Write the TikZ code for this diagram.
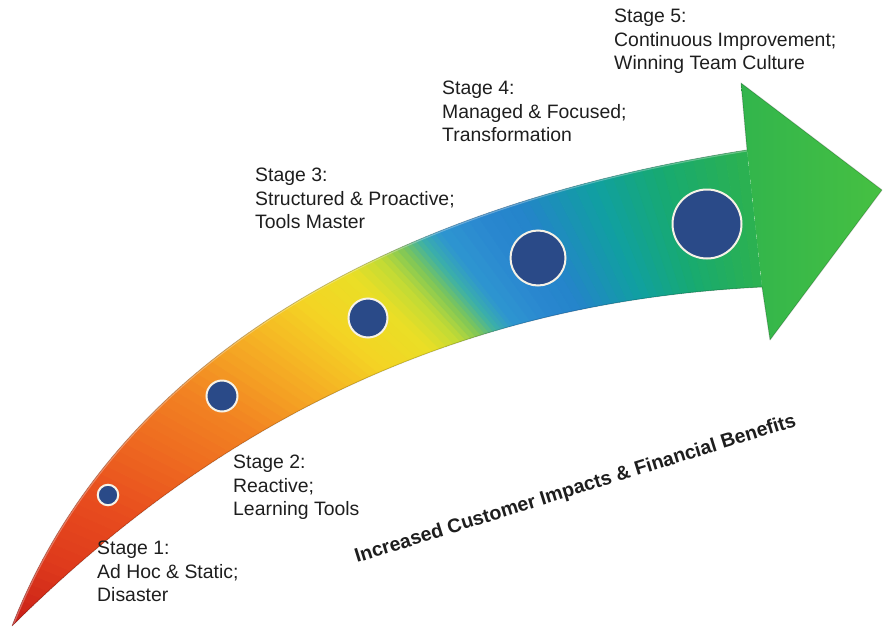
\documentclass[tikz,border=0pt]{standalone}
\usepackage{fontspec}
\setmainfont{Liberation Sans}

% band colours, from the tail to the head
\definecolor{b00}{HTML}{C81E18}
\definecolor{b10}{HTML}{DE3A1C}
\definecolor{b20}{HTML}{E84C1E}
\definecolor{b30}{HTML}{EE6A20}
\definecolor{b39}{HTML}{F28422}
\definecolor{b48}{HTML}{F5AE24}
\definecolor{b56}{HTML}{F4D424}
\definecolor{b62}{HTML}{EADF26}
\definecolor{b655}{HTML}{C0DA36}
\definecolor{b68}{HTML}{7CC65A}
\definecolor{b70}{HTML}{3CB0A8}
\definecolor{b72}{HTML}{2E96D0}
\definecolor{b76}{HTML}{2A88D0}
\definecolor{b80}{HTML}{2484CA}
\definecolor{b87}{HTML}{10A0A0}
\definecolor{b93}{HTML}{18AA70}
\definecolor{b100}{HTML}{2CB250}
\definecolor{headL}{HTML}{32B54C}
\definecolor{headR}{HTML}{46C042}
\definecolor{dotblue}{HTML}{2A4A88}
\definecolor{dotrim}{HTML}{F6F2E6}
\definecolor{inktext}{HTML}{1E1E1E}

% one stretch of the curved band: t0, t1, start colour, end colour, strips
\newcommand\bandseg[5]{%
  \foreach \j in {1,...,#5}{%
    \pgfmathsetmacro\ta{#1+(#2-#1)*(\j-1)/#5}%
    \pgfmathsetmacro\tb{#1+(#2-#1)*\j/#5}%
    \pgfmathsetmacro\sa{\ta-0.2*\ta*(1-\ta)}%
    \pgfmathsetmacro\sb{\tb-0.2*\tb*(1-\tb)}%
    \pgfmathsetmacro\pc{100*(\j-0.5)/#5}%
    \path (U0) .. controls (U1) and (U2) .. (U3)
      coordinate[pos=\ta] (pa) coordinate[pos=\tb] (pb);
    \path (L0) .. controls (L1) and (L2) .. (L3)
      coordinate[pos=\sa] (qa) coordinate[pos=\sb] (qb);
    \colorlet{bandc}{#4!\pc!#3}%
    \fill[bandc, draw=bandc, line width=0.8pt] (pa) -- (pb) -- (qb) -- (qa) -- cycle;
  }%
}

\begin{document}
\begin{tikzpicture}[x=1pt, y=-1pt,
  stagetext/.style={anchor=north west, align=left, inner sep=0pt, text=inktext,
    font=\fontsize{19.4}{23.5}\selectfont},
  stagedot/.style={circle, fill=dotblue, draw=dotrim, line width=2pt, inner sep=0pt},
  edgeline/.style={draw=black, draw opacity=0.18, line width=1pt, line join=round}]

\useasboundingbox (0,0) rectangle (883,629);

% outline of the arrow: upper edge U, lower edge L, head H
\coordinate (U0) at (12,626);
\coordinate (U1) at (100,400);
\coordinate (U2) at (330,215);
\coordinate (U3) at (747,150);
\coordinate (L0) at (12,626);
\coordinate (L1) at (250,390);
\coordinate (L2) at (500,300);
\coordinate (L3) at (762,287);
\coordinate (H1) at (741,83);
\coordinate (H2) at (882,190);
\coordinate (H3) at (770,340);

% curved shaft, coloured strip by strip
\begin{scope}
  \clip (U0) .. controls (U1) and (U2) .. (U3) -- (L3)
        .. controls (L2) and (L1) .. (L0) -- cycle;
  \bandseg{0.00}{0.10}{b00}{b10}{8}
  \bandseg{0.10}{0.20}{b10}{b20}{8}
  \bandseg{0.20}{0.30}{b20}{b30}{8}
  \bandseg{0.30}{0.39}{b30}{b39}{8}
  \bandseg{0.39}{0.48}{b39}{b48}{8}
  \bandseg{0.48}{0.56}{b48}{b56}{8}
  \bandseg{0.56}{0.62}{b56}{b62}{6}
  \bandseg{0.62}{0.655}{b62}{b655}{4}
  \bandseg{0.655}{0.68}{b655}{b68}{4}
  \bandseg{0.68}{0.70}{b68}{b70}{4}
  \bandseg{0.70}{0.72}{b70}{b72}{4}
  \bandseg{0.72}{0.76}{b72}{b76}{4}
  \bandseg{0.76}{0.80}{b76}{b80}{4}
  \bandseg{0.80}{0.87}{b80}{b87}{8}
  \bandseg{0.87}{0.93}{b87}{b93}{7}
  \bandseg{0.93}{1.00}{b93}{b100}{8}
  % light sheen along the upper edge
  \draw[white, opacity=0.3, line width=3pt]
    (U0) .. controls (U1) and (U2) .. (U3);
\end{scope}

% arrow head
\shade[left color=headL, right color=headR]
  (U3) -- (H1) -- (H2) -- (H3) -- (L3) -- cycle;

% soft rim round the whole arrow
\path[edgeline] (U0) .. controls (U1) and (U2) .. (U3) -- (H1) -- (H2) -- (H3)
  -- (L3) .. controls (L2) and (L1) .. (L0) -- cycle;

% stage markers along the arrow
\node[stagedot, minimum size=20.5pt] (d1) at (108,495) {};
\node[stagedot, minimum size=31pt]   (d2) at (222,396) {};
\node[stagedot, minimum size=39pt]   (d3) at (368,318) {};
\node[stagedot, minimum size=55pt]   (d4) at (538,258) {};
\node[stagedot, minimum size=69pt]   (d5) at (707,224) {};

% stage captions
\node[stagetext] (s1) at (97,541) {Stage 1:\\Ad Hoc \& Static;\\Disaster};
\node[stagetext] (s2) at (233,455) {Stage 2:\\Reactive;\\Learning Tools};
\node[stagetext] (s3) at (255,168) {Stage 3:\\Structured \& Proactive;\\Tools Master};
\node[stagetext] (s4) at (442,81) {Stage 4:\\Managed \& Focused;\\Transformation};
\node[stagetext] (s5) at (614,9) {Stage 5:\\Continuous Improvement;\\Winning Team Culture};

% benefit line under the arrow
\node[anchor=base west, rotate=17.3, inner sep=0pt, text=inktext,
  font=\fontsize{19.6}{19.6}\selectfont\bfseries] (gain) at (357,563)
  {Increased Customer Impacts \& Financial Benefits};

\end{tikzpicture}
\end{document}
